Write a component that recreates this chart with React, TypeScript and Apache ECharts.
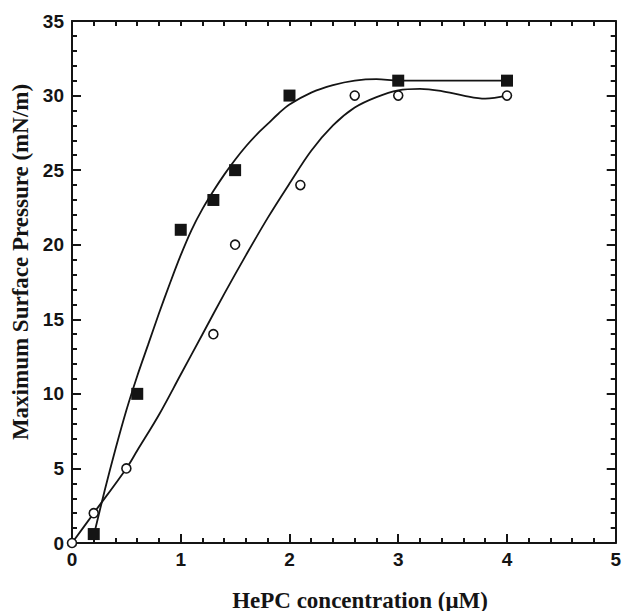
import React, { useEffect, useRef } from "react";
import * as echarts from "echarts";

// Measured markers
const squaresX = [0.2, 0.6, 1.0, 1.3, 1.5, 2.0, 3.0, 4.0];
const squaresY = [0.6, 10, 21, 23, 25, 30, 31, 31];
const circlesX = [0, 0.2, 0.5, 1.3, 1.5, 2.1, 2.6, 3.0, 4.0];
const circlesY = [0, 2, 5, 14, 20, 24, 30, 30, 30];

// Fitted curves
const upperCurveX = [0.2, 0.3, 0.4, 0.5, 0.6, 0.7, 0.8, 0.9, 1.0, 1.1, 1.2, 1.3, 1.4, 1.5, 1.6, 1.7, 1.8, 1.9, 2.0, 2.2, 2.4, 2.6, 2.8, 3.0, 3.5, 4.0];
const upperCurveY = [0.5, 3.5, 6.3, 8.9, 11.2, 13.3, 15.4, 17.4, 19.3, 21.0, 22.4, 23.6, 24.7, 25.7, 26.6, 27.4, 28.1, 28.8, 29.4, 30.2, 30.7, 31.0, 31.1, 31.0, 31.0, 31.0];
const lowerCurveX = [0, 0.2, 0.5, 0.6, 0.8, 1.0, 1.2, 1.4, 1.6, 1.8, 2.0, 2.2, 2.4, 2.6, 2.8, 3.0, 3.2, 3.4, 3.6, 3.8, 4.0];
const lowerCurveY = [0, 2, 5, 6.2, 8.6, 11.3, 14.0, 16.7, 19.3, 21.8, 24.1, 26.3, 28.0, 29.2, 29.9, 30.35, 30.45, 30.3, 30.0, 29.8, 30.0];

const xTitle = "HePC concentration (μM)";
const yTitle = "Maximum Surface Pressure (mN/m)";

const zip = (xs: number[], ys: number[]) => xs.map((x, i) => [x, ys[i]]);

export default function App() {
  const ref = useRef<HTMLDivElement>(null);
  useEffect(() => {
    if (!ref.current) return;
    const chart = echarts.init(ref.current, undefined, { renderer: "svg" });
    const ink = "#141414";
    const labelFont = { fontFamily: "Liberation Sans", fontWeight: "bold" as const, fontSize: 19, color: ink };
    const axisCommon = {
      type: "value" as const,
      axisLine: { show: true, onZero: false, lineStyle: { color: ink, width: 2 } },
      splitLine: { show: false },
    };
    chart.setOption({
      animation: false,
      grid: { left: 72, right: 8, top: 21, bottom: 68 },
      xAxis: [
        {
          ...axisCommon,
          min: 0,
          max: 5,
          interval: 1,
          position: "bottom",
          axisTick: { show: true, inside: true, length: 9, lineStyle: { color: ink, width: 2 } },
          minorTick: { show: true, splitNumber: 5, length: 5, lineStyle: { color: ink, width: 2 } },
          axisLabel: { ...labelFont, margin: 7 },
        },
        {
          ...axisCommon,
          min: 0,
          max: 5,
          interval: 0.2,
          position: "top",
          axisTick: { show: true, inside: true, length: 5, lineStyle: { color: ink, width: 2 } },
          axisLabel: { show: false },
        },
      ],
      yAxis: [
        {
          ...axisCommon,
          min: 0,
          max: 35,
          interval: 5,
          position: "left",
          axisTick: { show: true, inside: true, length: 9, lineStyle: { color: ink, width: 2 } },
          minorTick: { show: true, splitNumber: 5, length: 5, lineStyle: { color: ink, width: 2 } },
          axisLabel: { ...labelFont, margin: 8 },
        },
        {
          ...axisCommon,
          min: 0,
          max: 35,
          interval: 5,
          position: "right",
          axisTick: { show: true, inside: true, length: 9, lineStyle: { color: ink, width: 2 } },
          minorTick: { show: true, splitNumber: 5, length: 5, lineStyle: { color: ink, width: 2 } },
          axisLabel: { show: false },
        },
      ],
      series: [
        {
          type: "line",
          data: zip(upperCurveX, upperCurveY),
          showSymbol: false,
          smooth: 0.35,
          lineStyle: { color: ink, width: 1.8 },
          z: 2,
        },
        {
          type: "line",
          data: zip(lowerCurveX, lowerCurveY),
          showSymbol: false,
          smooth: 0.35,
          lineStyle: { color: ink, width: 1.8 },
          z: 2,
        },
        {
          type: "scatter",
          data: zip(squaresX, squaresY),
          symbol: "rect",
          symbolSize: 12,
          itemStyle: { color: ink, opacity: 1 },
          z: 5,
        },
        {
          type: "scatter",
          data: zip(circlesX, circlesY),
          symbol: "circle",
          symbolSize: 9,
          itemStyle: { color: "#ffffff", borderColor: ink, borderWidth: 1.6, opacity: 1 },
          z: 5,
        },
      ],
      graphic: [
        {
          type: "text",
          x: 360,
          y: 600,
          style: {
            text: xTitle,
            font: 'bold 23px "Liberation Serif"',
            fill: ink,
            textAlign: "center",
            textVerticalAlign: "middle",
            align: "center",
            verticalAlign: "middle",
          },
        },
        {
          type: "text",
          x: 20,
          y: 262,
          rotation: Math.PI / 2,
          style: {
            text: yTitle,
            font: 'bold 23px "Liberation Serif"',
            fill: ink,
            textAlign: "center",
            textVerticalAlign: "middle",
            align: "center",
            verticalAlign: "middle",
          },
        },
      ],
    });
    return () => chart.dispose();
  }, []);
  return (
    <div
      ref={ref}
      style={{ position: "fixed", left: 0, top: 0, width: 624, height: 611, background: "#ffffff" }}
    />
  );
}
